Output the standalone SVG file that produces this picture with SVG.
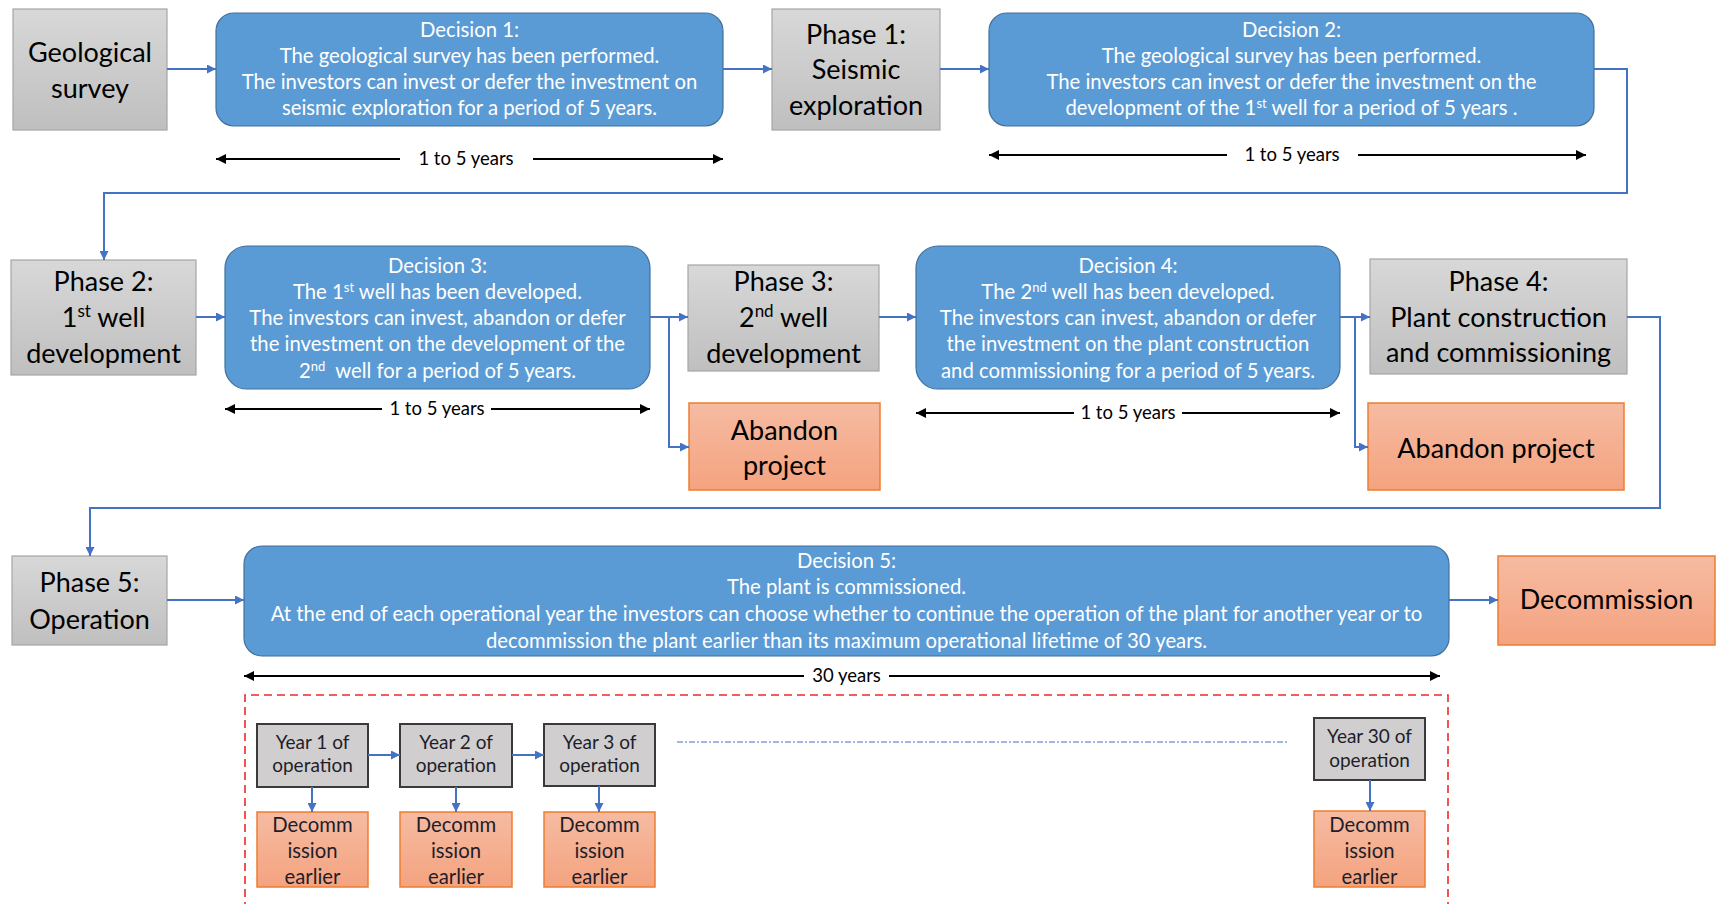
<svg xmlns="http://www.w3.org/2000/svg" width="1716" height="904" viewBox="0 0 1716 904">
  <defs>
    <linearGradient id="grayFill" x1="0" y1="0" x2="0" y2="1">
      <stop offset="0" stop-color="#d8d8d8"/>
      <stop offset="1" stop-color="#bfbfbf"/>
    </linearGradient>
    <linearGradient id="orangeFill" x1="0" y1="0" x2="0" y2="1">
      <stop offset="0" stop-color="#f6bba2"/>
      <stop offset="1" stop-color="#f4a37f"/>
    </linearGradient>
    <marker id="blueHead" viewBox="0 0 10 10" refX="10" refY="5" markerWidth="9" markerHeight="9" markerUnits="userSpaceOnUse" orient="auto">
      <path d="M0,0 L10,5 L0,10 z" fill="#4472c4"/>
    </marker>
    <marker id="blackHead" viewBox="0 0 10 10" refX="10" refY="5" markerWidth="11" markerHeight="10" markerUnits="userSpaceOnUse" orient="auto-start-reverse">
      <path d="M0,0 L10,5 L0,10 z" fill="#000"/>
    </marker>
  </defs>
  <style>
    text { font-family: Lato, "Liberation Sans", sans-serif; text-anchor: middle; }
    .phase rect { fill: url(#grayFill); stroke: #a6a6a6; stroke-width: 1.2; }
    .phase text { font-size: 27px; fill: #000; }
    .decision rect { fill: #5b9bd5; stroke: #41719c; stroke-width: 1.2; }
    .decision text { font-size: 20.3px; fill: #fff; }
    .outcome rect { fill: url(#orangeFill); stroke: #ed7d31; stroke-width: 1.5; }
    .outcome text { font-size: 27px; fill: #000; }
    .year rect { fill: #d0cece; stroke: #3a3a3a; stroke-width: 2; }
    .year text { font-size: 19px; fill: #1e1e2a; }
    .early rect { fill: url(#orangeFill); stroke: #ed7d31; stroke-width: 1.5; }
    .early text { font-size: 20.3px; fill: #1e1e2a; }
    .flow { fill: none; stroke: #4472c4; stroke-width: 2; marker-end: url(#blueHead); }
    .span { fill: none; stroke: #000; stroke-width: 2; }
    .spanL { marker-start: url(#blackHead); }
    .spanR { marker-end: url(#blackHead); }
    .span-label { font-size: 18.5px; fill: #000; }
  </style>

  <!-- Row 1 -->
  <g id="geological-survey" class="phase">
    <rect x="13" y="9" width="154" height="121"/>
    <text x="90" y="61.5">Geological</text>
    <text x="90" y="97.5">survey</text>
  </g>
  <g id="decision-1" class="decision">
    <rect x="216" y="13" width="507" height="113" rx="18"/>
    <text x="469.5" y="37">Decision 1:</text>
    <text x="469.5" y="63">The geological survey has been performed.</text>
    <text x="469.5" y="89">The investors can invest or defer the investment on</text>
    <text x="469.5" y="115">seismic exploration for a period of 5 years.</text>
  </g>
  <g id="phase-1" class="phase">
    <rect x="772" y="9" width="168" height="121"/>
    <text x="856" y="44">Phase 1:</text>
    <text x="856" y="79">Seismic</text>
    <text x="856" y="115">exploration</text>
  </g>
  <g id="decision-2" class="decision">
    <rect x="989" y="13" width="605" height="113" rx="18"/>
    <text x="1291.5" y="37">Decision 2:</text>
    <text x="1291.5" y="63">The geological survey has been performed.</text>
    <text x="1291.5" y="89">The investors can invest or defer the investment on the</text>
    <text x="1291.5" y="115">development of the 1<tspan font-size="13" dy="-7">st</tspan><tspan dy="7"> well for a period of 5 years .</tspan></text>
  </g>

  <!-- Row 2 -->
  <g id="phase-2" class="phase">
    <rect x="11" y="260" width="185" height="115"/>
    <text x="103.5" y="291">Phase 2:</text>
    <text x="103.5" y="326.5">1<tspan font-size="17" dy="-10">st</tspan><tspan dy="10"> well</tspan></text>
    <text x="103.5" y="362.5">development</text>
  </g>
  <g id="decision-3" class="decision">
    <rect x="225" y="246" width="425" height="143" rx="22"/>
    <text x="437.5" y="272.5">Decision 3:</text>
    <text x="437.5" y="298.8">The 1<tspan font-size="13" dy="-7">st</tspan><tspan dy="7"> well has been developed.</tspan></text>
    <text x="437.5" y="325">The investors can invest, abandon or defer</text>
    <text x="437.5" y="351.4">the investment on the development of the</text>
    <text x="437.5" y="377.7">2<tspan font-size="13" dy="-7">nd</tspan><tspan dy="7">&#160; well for a period of 5 years.</tspan></text>
  </g>
  <g id="phase-3" class="phase">
    <rect x="688" y="265" width="191" height="106"/>
    <text x="783.5" y="291">Phase 3:</text>
    <text x="783.5" y="326.5">2<tspan font-size="17" dy="-10">nd</tspan><tspan dy="10"> well</tspan></text>
    <text x="783.5" y="362.5">development</text>
  </g>
  <g id="abandon-1" class="outcome">
    <rect x="689" y="403" width="191" height="87"/>
    <text x="784.5" y="440">Abandon</text>
    <text x="784.5" y="475">project</text>
  </g>
  <g id="decision-4" class="decision">
    <rect x="916" y="246" width="424" height="143" rx="22"/>
    <text x="1128" y="272.5">Decision 4:</text>
    <text x="1128" y="298.8">The 2<tspan font-size="13" dy="-7">nd</tspan><tspan dy="7"> well has been developed.</tspan></text>
    <text x="1128" y="325">The investors can invest, abandon or defer</text>
    <text x="1128" y="351.4">the investment on the plant construction</text>
    <text x="1128" y="377.7">and commissioning for a period of 5 years.</text>
  </g>
  <g id="phase-4" class="phase">
    <rect x="1370" y="259" width="257" height="115"/>
    <text x="1498.5" y="291">Phase 4:</text>
    <text x="1498.5" y="327">Plant construction</text>
    <text x="1498.5" y="361.5">and commissioning</text>
  </g>
  <g id="abandon-2" class="outcome">
    <rect x="1368" y="403" width="256" height="87"/>
    <text x="1496" y="457.7">Abandon project</text>
  </g>

  <!-- Row 3 -->
  <g id="phase-5" class="phase">
    <rect x="12" y="556" width="155" height="89"/>
    <text x="89.5" y="592">Phase 5:</text>
    <text x="89.5" y="628.5">Operation</text>
  </g>
  <g id="decision-5" class="decision">
    <rect x="244" y="546" width="1205" height="110" rx="18"/>
    <text x="846.5" y="568">Decision 5:</text>
    <text x="846.5" y="594">The plant is commissioned.</text>
    <text x="846.5" y="620.5">At the end of each operational year the investors can choose whether to continue the operation of the plant for another year or to</text>
    <text x="846.5" y="647.5">decommission the plant earlier than its maximum operational lifetime of 30 years.</text>
  </g>
  <g id="decommission" class="outcome">
    <rect x="1498" y="556" width="217" height="89"/>
    <text x="1606.5" y="608.7">Decommission</text>
  </g>

  <!-- Yearly operation detail -->
  <path id="operation-years-frame" d="M245,910 V695 H1448 V910" fill="none" stroke="#ee2a2a" stroke-width="1.6" stroke-dasharray="8 5"/>
  <g id="year-1" class="year">
    <rect x="257" y="724" width="111" height="63"/>
    <text x="312.5" y="749">Year 1 of</text>
    <text x="312.5" y="772">operation</text>
  </g>
  <g id="year-2" class="year">
    <rect x="400" y="724" width="112" height="63"/>
    <text x="456" y="749">Year 2 of</text>
    <text x="456" y="772">operation</text>
  </g>
  <g id="year-3" class="year">
    <rect x="544" y="724" width="111" height="62"/>
    <text x="599.5" y="749">Year 3 of</text>
    <text x="599.5" y="772">operation</text>
  </g>
  <g id="year-30" class="year">
    <rect x="1314" y="718" width="111" height="62"/>
    <text x="1369.5" y="743">Year 30 of</text>
    <text x="1369.5" y="767">operation</text>
  </g>
  <g id="early-1" class="early">
    <rect x="257" y="812" width="111" height="75"/>
    <text x="312.5" y="832">Decomm</text>
    <text x="312.5" y="858">ission</text>
    <text x="312.5" y="884">earlier</text>
  </g>
  <g id="early-2" class="early">
    <rect x="400" y="812" width="112" height="75"/>
    <text x="456" y="832">Decomm</text>
    <text x="456" y="858">ission</text>
    <text x="456" y="884">earlier</text>
  </g>
  <g id="early-3" class="early">
    <rect x="544" y="812" width="111" height="75"/>
    <text x="599.5" y="832">Decomm</text>
    <text x="599.5" y="858">ission</text>
    <text x="599.5" y="884">earlier</text>
  </g>
  <g id="early-30" class="early">
    <rect x="1314" y="811" width="111" height="76"/>
    <text x="1369.5" y="832">Decomm</text>
    <text x="1369.5" y="858">ission</text>
    <text x="1369.5" y="884">earlier</text>
  </g>

  <!-- Connectors -->
  <g id="connectors">
    <path class="flow" d="M167,69 H216"/>
    <path class="flow" d="M723,69 H772"/>
    <path class="flow" d="M940,69 H989"/>
    <path class="flow" d="M1594,69 H1627 V193 H104 V260"/>
    <path class="flow" d="M196,317 H225"/>
    <path class="flow" d="M650,317 H688"/>
    <path class="flow" d="M669,317 V447 H689"/>
    <path class="flow" d="M879,317 H916"/>
    <path class="flow" d="M1340,317 H1370"/>
    <path class="flow" d="M1355,317 V447 H1368"/>
    <path class="flow" d="M1627,317 H1660 V508 H90 V556"/>
    <path class="flow" d="M167,600 H244"/>
    <path class="flow" d="M1449,600 H1498"/>
    <path class="flow" d="M368,755 H400"/>
    <path class="flow" d="M512,755 H544"/>
    <path class="flow" d="M312,787 V812"/>
    <path class="flow" d="M456,787 V812"/>
    <path class="flow" d="M599,786 V812"/>
    <path class="flow" d="M1370,780 V811"/>
    <path d="M677,742 H1288" fill="none" stroke="#4472c4" stroke-width="1" stroke-dasharray="6 2 2 2"/>
  </g>

  <!-- Durations -->
  <g id="durations">
    <path class="span spanL" d="M216,159 H400"/>
    <path class="span spanR" d="M533,159 H723"/>
    <text class="span-label" x="466" y="165">1 to 5 years</text>
    <path class="span spanL" d="M989,155 H1227"/>
    <path class="span spanR" d="M1358,155 H1586"/>
    <text class="span-label" x="1292" y="161">1 to 5 years</text>
    <path class="span spanL" d="M225,409 H382"/>
    <path class="span spanR" d="M491,409 H650"/>
    <text class="span-label" x="437" y="415">1 to 5 years</text>
    <path class="span spanL" d="M916,413 H1074"/>
    <path class="span spanR" d="M1182,413 H1340"/>
    <text class="span-label" x="1128" y="419">1 to 5 years</text>
    <path class="span spanL" d="M244,676 H804"/>
    <path class="span spanR" d="M889,676 H1440"/>
    <text class="span-label" x="846.5" y="682">30 years</text>
  </g>
</svg>
